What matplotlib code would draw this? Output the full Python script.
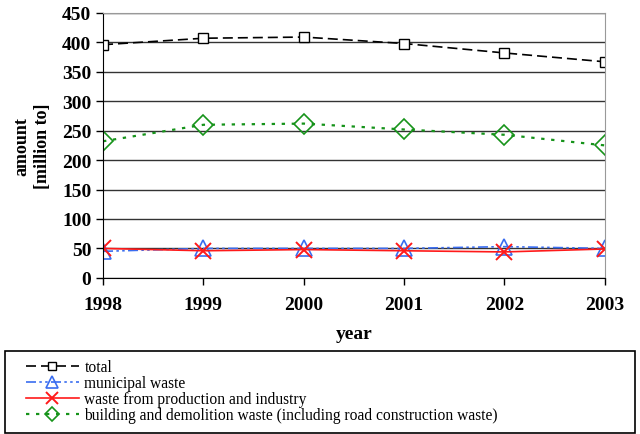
import matplotlib
matplotlib.use("Agg")
import matplotlib.pyplot as plt
from matplotlib.patches import Rectangle

years = [1998, 1999, 2000, 2001, 2002, 2003]
total = [396, 407, 409, 398, 382, 367]
municipal = [45, 50, 50, 50, 53, 50]
production = [50, 46, 48, 46, 44, 49]
building = [232, 260, 262, 252, 243, 225]

labels = ["total", "municipal waste", "waste from production and industry",
          "building and demolition waste (including road construction waste)"]

plt.rcParams['font.family'] = ['Liberation Serif', 'DejaVu Serif']

fig = plt.figure(figsize=(6.4, 4.35), dpi=100)
ax = fig.add_axes([0.161, 0.359, 0.784, 0.609])

ax.plot(years, total, color='black', linestyle=(0, (6, 3)), lw=1.2,
        marker='s', ms=7, mfc='white', mec='black', mew=1, label=labels[0])
ax.plot(years, municipal, color='#3a6df0', linestyle=(0, (6, 2, 1.5, 2, 1.5, 2)), lw=1.2,
        marker='^', ms=12, mfc='none', mec='#3a6df0', mew=1.2, label=labels[1])
ax.plot(years, production, color='#ff1a1a', linestyle='-', lw=1.2,
        marker='x', ms=12, mec='#ff1a1a', mew=1.4, label=labels[2])
ax.plot(years, building, color='#16931a', linestyle=(0, (1.5, 3)), lw=1.6,
        marker='D', ms=10, mfc='none', mec='#16931a', mew=1.2, label=labels[3])

ax.set_xlim(1998, 2003)
ax.set_ylim(0, 450)
ax.set_yticks(range(0, 451, 50))
ax.set_xticks(years)
ax.grid(axis='y', color='#333333', lw=1)
ax.set_axisbelow(True)
for s in ['top', 'right']:
    ax.spines[s].set_color('#999999')
for s in ['left', 'bottom']:
    ax.spines[s].set_color('black')
ax.tick_params(direction='out', length=5, width=1, labelsize=14)
ax.tick_params(axis='x', pad=8)
for t in ax.get_xticklabels() + ax.get_yticklabels():
    t.set_fontweight('bold')
ax.set_xlabel("year", fontsize=14, fontweight='bold', labelpad=9)
ax.set_ylabel("amount\n[million to]", fontsize=13, fontweight='bold', labelpad=8,
              linespacing=1.25)

# legend box
fig.patches.append(Rectangle((5 / 640, 1 / 435), 630 / 640, 82 / 435,
                             transform=fig.transFigure, fill=False,
                             edgecolor='black', lw=1.2))
leg = fig.legend(loc='upper left', bbox_to_anchor=(26 / 640, 1 - 360 / 435),
                 frameon=False, fontsize=11.2, handlelength=3.4,
                 labelspacing=0.0, borderpad=0, handletextpad=0.35,
                 borderaxespad=0)
for h in leg.legend_handles:
    h.set_markersize(h.get_markersize() * 0.75)

fig.savefig("out.png", dpi=100)
